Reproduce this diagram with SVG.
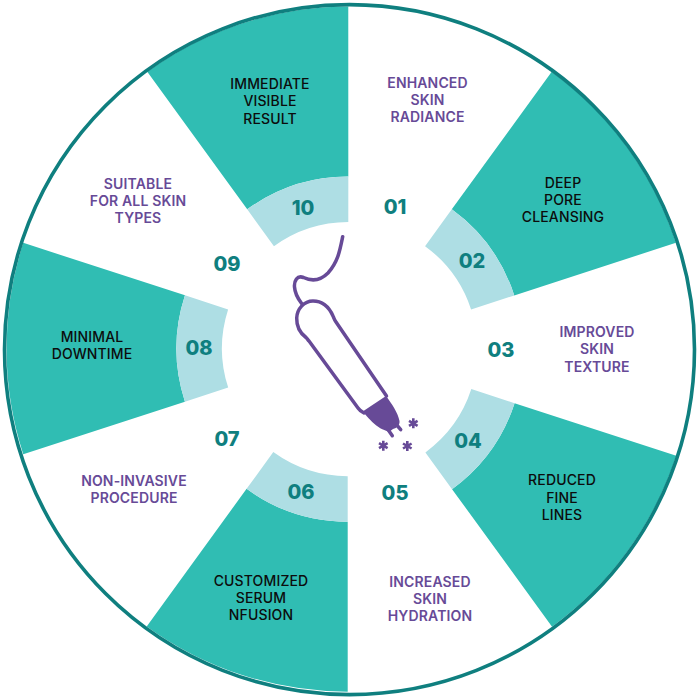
<svg xmlns="http://www.w3.org/2000/svg" width="700" height="700" viewBox="0 0 700 700">
<style>
.t{fill:#30bdb3}.l{fill:#aedee4}
text{font-family:"Inter","Liberation Sans",sans-serif;text-anchor:middle}
.d{font-size:14px;font-weight:500;fill:#0c0c0c;letter-spacing:.15px}
.p{font-size:14px;font-weight:600;fill:#674a97;letter-spacing:.15px}
.n{font-size:20px;font-weight:800;fill:#0f7f7f}
.s{fill:none;stroke:#674a97;stroke-width:3.5;stroke-linecap:round;stroke-linejoin:round}
.a{fill:none;stroke:#674a97;stroke-width:2.6}
</style>
<rect width="700" height="700" fill="#fff"/>
<defs>
<g id="sec">
<path class="t" d="M348.500 176.500V6.500A342 342 0 0 1 549.500 71.800L449.600 209.400A172 172 0 0 0 348.500 176.500Z"/>
<path class="l" d="M348.500 222V176.500A172 172 0 0 1 449.600 209.400L422.900 246.100A127 127 0 0 0 348.500 222Z"/>
</g>
<path id="ast" d="M0 -5V5M-4.300 -2.500L4.300 2.500M4.300 -2.500L-4.300 2.500"/>
</defs>
<g id="sectors">
<use href="#sec" transform="translate(2.200 0) rotate(36 348.500 348.500)"/>
<use href="#sec" transform="translate(2.500 1.500) rotate(108 348.500 348.500)"/>
<use href="#sec" transform="translate(-.8 1.200) rotate(180 348.500 348.500)"/>
<use href="#sec" transform="rotate(252 348.500 348.500)"/>
<use href="#sec" transform="translate(-.2 0) rotate(324 348.500 348.500)"/>
</g>
<circle cx="349.500" cy="349.600" r="345" fill="none" stroke="#0f7f7f" stroke-width="3.6"/>
<g id="pen">
<path class="s" d="M342.700 236.700C340 250 338 262 328 273C320 281 311 281 303.500 277.500C297 275 294 281 294.500 287C295 295 299 300 302 304"/>
<path class="s" d="M386.500 396L336 322C334 319 334 318 333 316C329 307 322 301 313 301C304 301 297 309 296.700 318C296.500 326 300 333 306 337.500C307.500 339 308 340 309 341L358 408C360 411 362 412 364 413"/>
<path d="M362.700 411.500L386 396C392 404 398 413 399.500 421C400 425 397 428 393 429L389 432L383 429.500C377 427 371 421 367 416.500Z" fill="#674a97"/>
<path class="s" d="M396.700 425L400.700 429.700M388.300 430L392.300 435.700"/>
<use href="#ast" class="a" x="413.300" y="423.300"/>
<use href="#ast" class="a" x="383.300" y="445.700"/>
<use href="#ast" class="a" x="407.300" y="446"/>
</g>
<g id="n01"><text class="n" x="395" y="214">01</text><text class="p" x="427.500" y="88">ENHANCED</text><text class="p" x="427.500" y="105">SKIN</text><text class="p" x="427.500" y="122">RADIANCE</text></g>
<g id="n02"><text class="n" x="472" y="268">02</text><text class="d" x="563" y="188">DEEP</text><text class="d" x="563" y="205">PORE</text><text class="d" x="563" y="222">CLEANSING</text></g>
<g id="n03"><text class="n" x="501" y="357">03</text><text class="p" x="597" y="337">IMPROVED</text><text class="p" x="597" y="354">SKIN</text><text class="p" x="597" y="372">TEXTURE</text></g>
<g id="n04"><text class="n" x="468" y="448">04</text><text class="d" x="562" y="485">REDUCED</text><text class="d" x="562" y="503">FINE</text><text class="d" x="562" y="520">LINES</text></g>
<g id="n05"><text class="n" x="395" y="500">05</text><text class="p" x="430" y="587">INCREASED</text><text class="p" x="430" y="604">SKIN</text><text class="p" x="430" y="621">HYDRATION</text></g>
<g id="n06"><text class="n" x="301" y="499">06</text><text class="d" x="261" y="586">CUSTOMIZED</text><text class="d" x="261" y="603">SERUM</text><text class="d" x="261" y="620">NFUSION</text></g>
<g id="n07"><text class="n" x="227" y="446">07</text><text class="p" x="134" y="486">NON-INVASIVE</text><text class="p" x="134" y="503">PROCEDURE</text></g>
<g id="n08"><text class="n" x="199" y="355">08</text><text class="d" x="92" y="342">MINIMAL</text><text class="d" x="92" y="359">DOWNTIME</text></g>
<g id="n09"><text class="n" x="227" y="271">09</text><text class="p" x="138" y="189">SUITABLE</text><text class="p" x="138" y="206">FOR ALL SKIN</text><text class="p" x="138" y="223">TYPES</text></g>
<g id="n10"><text class="n" x="303" y="215">10</text><text class="d" x="270" y="89">IMMEDIATE</text><text class="d" x="270" y="106">VISIBLE</text><text class="d" x="270" y="124">RESULT</text></g>
</svg>
